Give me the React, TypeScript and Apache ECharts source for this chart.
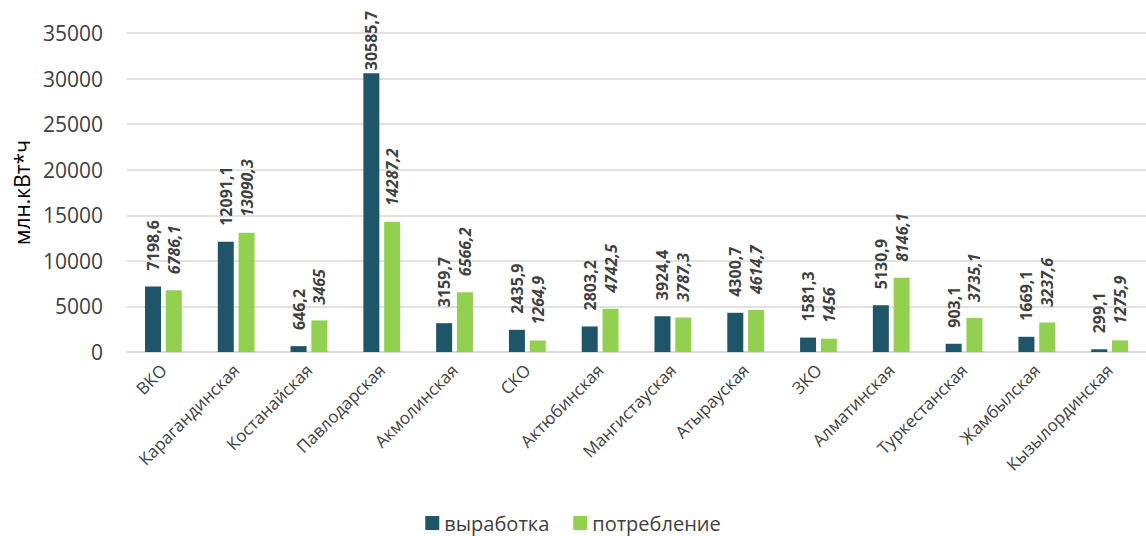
import React, { useEffect, useRef } from "react";
import * as echarts from "echarts";

const categories = [
  "ВКО",
  "Карагандинская",
  "Костанайская",
  "Павлодарская",
  "Акмолинская",
  "СКО",
  "Актюбинская",
  "Мангистауская",
  "Атырауская",
  "ЗКО",
  "Алматинская",
  "Туркестанская",
  "Жамбылская",
  "Кызылординская",
];
const production = [7198.6, 12091.1, 646.2, 30585.7, 3159.7, 2435.9, 2803.2, 3924.4, 4300.7, 1581.3, 5130.9, 903.1, 1669.1, 299.1];
const consumption = [6786.1, 13090.3, 3465, 14287.2, 6566.2, 1264.9, 4742.5, 3787.3, 4614.7, 1456, 8146.1, 3735.1, 3237.6, 1275.9];
const seriesNames = ["выработка", "потребление"];
const yAxisName = "млн.кВт*ч";

const FONT = "'Open Sans', 'Noto Sans', sans-serif";
const TEXT = "#404040";
const Y_MAX = 35000;

const fmt = (v: number) => String(v).replace(".", ",");

// labels of tall bars are pulled down close to the bar top so they stay inside the chart
const withLabelFit = (values: number[]) =>
  values.map((v) => (v > Y_MAX * 0.8 ? { value: v, label: { distance: 3 } } : v));

export default function App() {
  const ref = useRef<HTMLDivElement>(null);
  useEffect(() => {
    if (!ref.current) return;
    const chart = echarts.init(ref.current, null, { renderer: "svg" });
    const label = (italic: boolean) => ({
      show: true,
      position: "top",
      rotate: 90,
      align: "left",
      verticalAlign: "middle",
      distance: 16,
      fontFamily: FONT,
      fontSize: 16,
      fontWeight: "bold",
      fontStyle: italic ? "italic" : "normal",
      color: TEXT,
      formatter: (p: any) => fmt(p.value),
    });
    chart.setOption({
      animation: false,
      textStyle: { fontFamily: FONT },
      grid: { left: 127, top: 33, height: 319, width: 1029 },
      legend: {
        bottom: -2,
        left: "center",
        itemWidth: 14,
        itemHeight: 14,
        itemGap: 24,
        icon: "rect",
        textStyle: { fontFamily: FONT, fontSize: 20, color: TEXT },
        data: seriesNames,
      },
      xAxis: {
        type: "category",
        data: categories,
        axisLine: { lineStyle: { color: "#d9d9d9", width: 1.5 } },
        axisTick: { show: false },
        axisLabel: {
          rotate: 45,
          interval: 0,
          margin: 15,
          fontFamily: FONT,
          fontSize: 17,
          color: TEXT,
        },
      },
      yAxis: {
        type: "value",
        min: 0,
        max: Y_MAX,
        interval: 5000,
        name: yAxisName,
        nameLocation: "middle",
        nameGap: 90,
        nameTextStyle: { fontFamily: FONT, fontSize: 21, color: "#000" },
        axisLine: { show: false },
        axisTick: { show: false },
        splitLine: { lineStyle: { color: "#d9d9d9", width: 1.5 } },
        axisLabel: {
          fontFamily: FONT,
          fontSize: 21,
          color: TEXT,
          margin: 24,
          formatter: (v: number) => String(v),
        },
      },
      series: [
        {
          name: seriesNames[0],
          type: "bar",
          data: withLabelFit(production),
          barWidth: 16,
          barGap: "30%",
          itemStyle: { color: "#1F5569" },
          label: label(false),
        },
        {
          name: seriesNames[1],
          type: "bar",
          data: withLabelFit(consumption),
          barWidth: 16,
          itemStyle: { color: "#92D050" },
          label: label(true),
        },
      ],
    });
    return () => chart.dispose();
  }, []);
  return (
    <div
      ref={ref}
      style={{ position: "absolute", left: 0, top: 0, width: 1146, height: 536, overflow: "hidden" }}
    />
  );
}
